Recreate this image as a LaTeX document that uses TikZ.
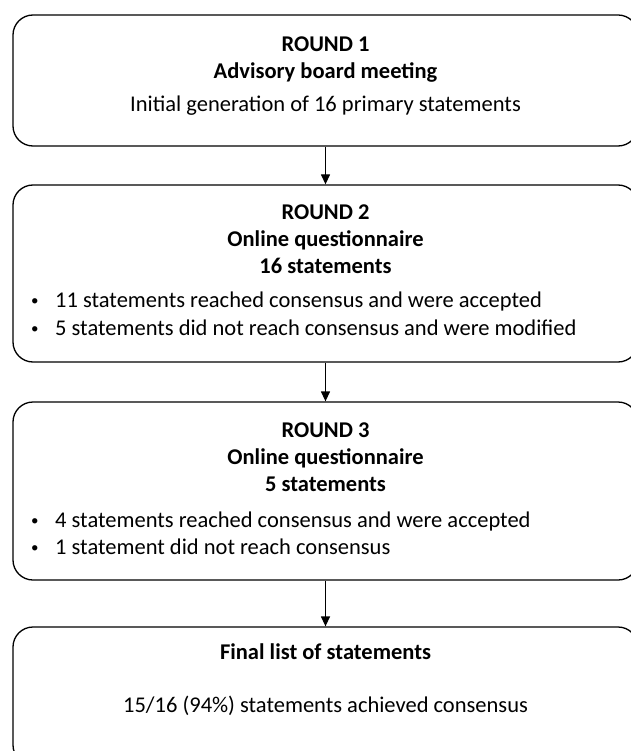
\documentclass[tikz,border=0pt]{standalone}
\usepackage{fontspec}
\setmainfont{Carlito}
\usetikzlibrary{arrows.meta,positioning}

\newcommand{\itemdot}{\makebox[24pt][l]{\raisebox{1.5pt}{\fontsize{15}{15}\selectfont\textbullet}}}

\tikzset{
  box/.style={draw, line width=1.3pt, rounded corners=20pt, minimum width=625pt, inner sep=0pt},
  head/.style={font=\bfseries\fontsize{22.5}{27}\selectfont, anchor=base},
  body/.style={font=\fontsize{22.5}{27}\selectfont, anchor=base},
  item/.style={font=\fontsize{22.5}{27}\selectfont, anchor=base west, inner xsep=0pt},
  arr/.style={-{Triangle[width=9pt,length=10pt]}, line width=1.3pt},
}

\begin{document}
\begin{tikzpicture}[x=1pt,y=-1pt]
    \useasboundingbox (0,0) rectangle (630,751);
    % boxes
    \node[box, minimum height=131pt] (r1) at (325.5,80.5) {};
    \node[box, minimum height=177pt] (r2) at (325.5,273.5) {};
    \node[box, minimum height=178pt] (r3) at (325.5,491) {};
    \node[box, minimum height=138pt] (fin) at (325.5,696) {};

    % round 1
    \node[head] (h1) at (325.5,52) {ROUND 1};
    \node[head] (s1) at (325.5,79) {Advisory board meeting};
    \node[body] (t1) at (325.5,112) {Initial generation of 16 primary statements};

    % round 2
    \node[head] (h2) at (325.5,219) {ROUND 2};
    \node[head] (s2) at (325.5,246) {Online questionnaire};
    \node[head] (n2) at (325.5,273) {16 statements};
    \node[item] (a2) at (31,307) {\itemdot 11 statements reached consensus and were accepted};
    \node[item] (b2) at (31,335) {\itemdot 5 statements did not reach consensus and were modified};

    % round 3
    \node[head] (h3) at (325.5,437) {ROUND 3};
    \node[head] (s3) at (325.5,464) {Online questionnaire};
    \node[head] (n3) at (325.5,491) {5 statements};
    \node[item] (a3) at (31,527) {\itemdot 4 statements reached consensus and were accepted};
    \node[item] (b3) at (31,554) {\itemdot 1 statement did not reach consensus};

    % final
    \node[head] (hf) at (325.5,659) {Final list of statements};
    \node[body] (tf) at (325.5,712) {15/16 (94\%) statements achieved consensus};

    \path[arr]
    (r1) edge (r2)
    (r2) edge (r3)
    (r3) edge (fin);
\end{tikzpicture}
\end{document}
